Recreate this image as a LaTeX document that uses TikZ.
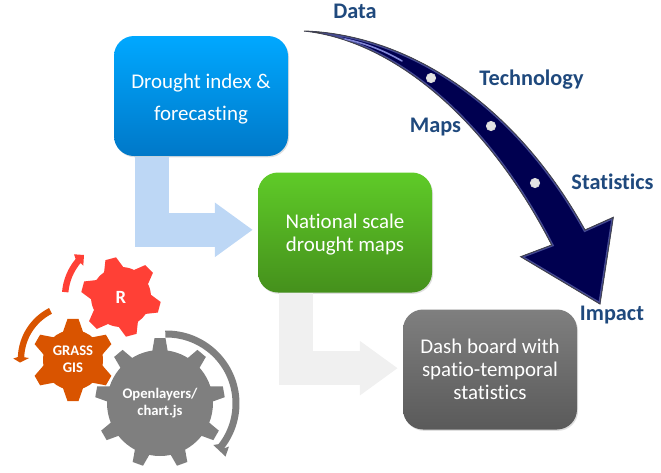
\documentclass[tikz,border=0pt]{standalone}
\usepackage{fontspec}
\setmainfont{Carlito}[Ligatures=NoCommon]
\usetikzlibrary{arrows.meta,shadows,calc}
\definecolor{labelblue}{RGB}{31,73,125}
\definecolor{swooshnavy}{RGB}{0,0,80}
\definecolor{swooshedge}{RGB}{70,75,150}
\definecolor{swooshglow}{RGB}{130,135,215}
\definecolor{indextop}{RGB}{0,168,255}
\definecolor{indexbot}{RGB}{0,120,200}
\definecolor{mapstop}{RGB}{95,203,40}
\definecolor{mapsbot}{RGB}{69,144,28}
\definecolor{boardtop}{RGB}{127,127,127}
\definecolor{boardbot}{RGB}{90,90,90}
\definecolor{flowblue}{RGB}{189,215,245}
\definecolor{flowgray}{RGB}{240,240,240}
\definecolor{gearred}{RGB}{255,64,54}
\definecolor{gearorange}{RGB}{217,84,0}
\definecolor{geargray}{RGB}{127,127,127}
\tikzset{
  every picture/.style={line width=0.8pt},
  stagebox/.style={rounded corners=15pt,minimum width=130.5pt,minimum height=90pt,text=white,align=center,
    font=\fontsize{15.7}{17.25}\selectfont,drop shadow={shadow xshift=0.8pt,shadow yshift=-1pt,opacity=0.25}},
  flowarrow/.style={line width=25.5pt,-{Triangle[length=28.5pt,width=39pt]},shorten >=3.5pt},
  swooshlabel/.style={text=labelblue,font=\fontsize{16.7}{19}\bfseries\selectfont,inner sep=0pt},
  gearlabel/.style={text=white,align=center,font=\fontsize{11}{13}\bfseries\selectfont,inner sep=0pt},
  swooshdot/.style={circle,draw=white!70!gray,fill=white!78!gray,line width=0.6pt,minimum size=7pt,inner sep=0pt},
}
% centre, body radius, tip radius, teeth, first angle, base half width, colour
\newcommand{\gearshape}[7]{
  \fill[#7] (#1) circle (#2);
  \foreach \k in {1,...,#4}{
    \pgfmathsetmacro{\ang}{#5+360/#4*\k}
    \pgfmathsetmacro{\spr}{#6/#2*57.3}
    \pgfmathsetmacro{\spt}{5.5/#3*57.3}
    \fill[#7] ($(#1)+(\ang-\spr:#2-1)$) -- ($(#1)+(\ang-\spt:#3)$) -- ($(#1)+(\ang+\spt:#3)$) -- ($(#1)+(\ang+\spr:#2-1)$) -- cycle;
  }
}
% centre, radius, half band, start angle, end angle, outer wing, tip, inner wing, colour
\newcommand{\looparrow}[9]{
  \pgfmathsetmacro{\ro}{#2+#3}
  \pgfmathsetmacro{\ri}{#2-#3}
  \fill[#9] ($(#1)+(#4:\ro)$) arc[start angle=#4,end angle=#5,radius=\ro] -- (#6) -- (#7) -- (#8)
    -- ($(#1)+(#5:\ri)$) arc[start angle=#5,end angle=#4,radius=\ri] -- cycle;
}
\begin{document}
\begin{tikzpicture}[x=0.75pt,y=0.75pt,yscale=-1, xscale=1]
\useasboundingbox (0,0) rectangle (661,472);

% Stage boxes
\node (index) [stagebox,top color=indextop,bottom color=indexbot] at (201,96) {\rule{0pt}{15pt}Drought index \&\\[6.5pt]forecasting};
\node (maps) [stagebox,top color=mapstop,bottom color=mapsbot] at (345,232.5) {\rule{0pt}{14.5pt}National scale\\drought maps};
\node (board) [stagebox,top color=boardtop,bottom color=boardbot] at (490,369.5) {Dash board with\\spatio-temporal\\statistics};

% Block arrows
\draw[flowarrow,draw=flowblue] ([xshift=-37pt]index.south) |- ([yshift=-2pt]maps.west);
\draw[flowarrow,draw=flowgray] ([xshift=-37pt]maps.south) |- ([yshift=-1pt]board.west);

% Swoosh
\draw[draw=black!75,fill=swooshnavy,line width=0.7pt] (304,31) .. controls (400,34) and (510,95) .. (585,230) -- (613.3,217.3) -- (600,304) -- (520.7,256.7) -- (551.7,245) .. controls (485,115) and (390,40) .. (304,31) -- cycle;
\begin{scope}
\clip (304,31) .. controls (400,34) and (510,95) .. (585,230) -- (613.3,217.3) -- (600,304) -- (520.7,256.7) -- (551.7,245) .. controls (485,115) and (390,40) .. (304,31) -- cycle;
\draw[draw=swooshedge,line width=2.6pt] (304,31) .. controls (400,34) and (510,95) .. (585,230) -- (613.3,217.3) -- (600,304) -- (520.7,256.7) -- (551.7,245) .. controls (485,115) and (390,40) .. (304,31) -- cycle;
\draw[draw=black!75,line width=0.7pt] (304,31) .. controls (400,34) and (510,95) .. (585,230) -- (613.3,217.3) -- (600,304) -- (520.7,256.7) -- (551.7,245) .. controls (485,115) and (390,40) .. (304,31) -- cycle;
\end{scope}
\draw[draw=swooshglow,line width=1.2pt,line cap=round] (345,39) .. controls (365,43) and (385,51) .. (402,61);

\node (dotmaps) [swooshdot] at (431,78) {};
\node (dottech) [swooshdot] at (491,126) {};
\node (dotstats) [swooshdot] at (535,183) {};

% Swoosh labels
\node (data) [swooshlabel] at (355,11) {Data};
\node (technology) [swooshlabel] at (531.5,80) {Technology};
\node (mapslabel) [swooshlabel] at (435.5,127) {Maps};
\node (statistics) [swooshlabel] at (612.5,182) {Statistics};
\node (impact) [swooshlabel] at (612,315) {Impact};

% Gears
\gearshape{121,297}{30}{40}{6}{-105}{11}{gearred}
\gearshape{73,360}{30}{41.5}{6}{-90}{11}{gearorange}
\gearshape{160,403}{53}{65}{9}{-90}{8}{geargray}

\looparrow{121,297}{56}{3.2}{-175}{-140}{74,254.3}{84,255}{83.3,265.7}{gearred}
\looparrow{75,359}{54}{3.2}{-117}{-178}{13.3,358.5}{20,362.5}{29,358}{gearorange}
\looparrow{166.5,403.5}{69.5}{3.5}{-91}{38}{229,446.5}{225.5,456.5}{213.3,445}{geargray}

\node (rgear) [gearlabel,font=\fontsize{14}{16}\bfseries\selectfont] at (121,297) {R};
\node (grass) [gearlabel] at (73,359.5) {GRASS\\GIS};
\node (openlayers) [gearlabel] at (160,403) {Openlayers/\\chart.js};
\end{tikzpicture}
\end{document}
